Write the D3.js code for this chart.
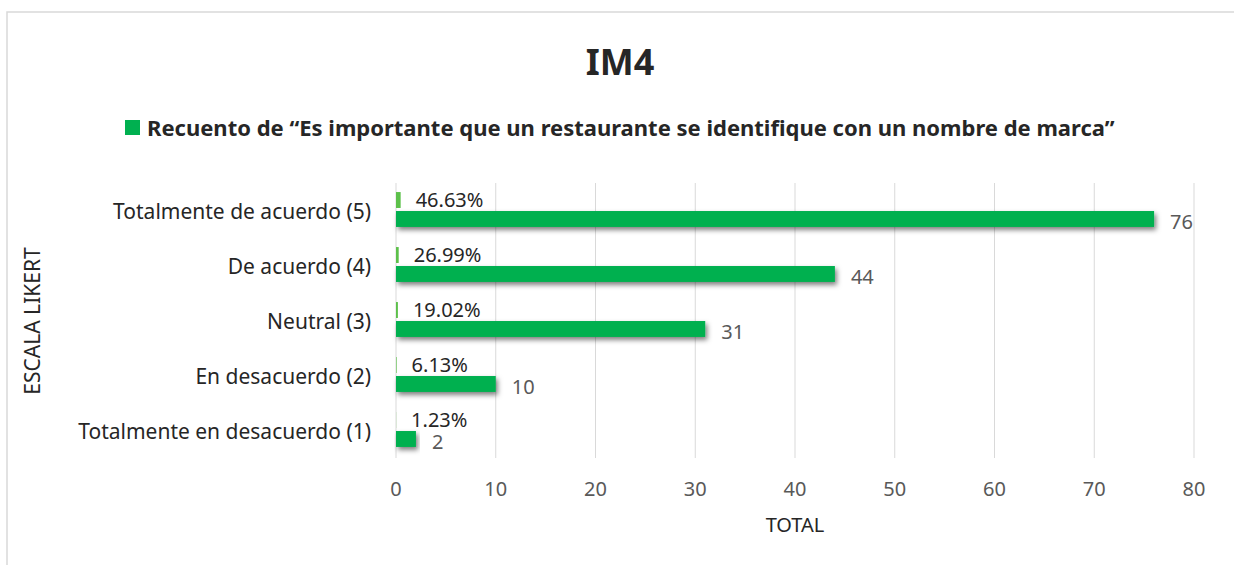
<html>
<head>
    <meta charset="UTF-8" />
    <script src="https://d3js.org/d3.v7.min.js"></script>
    <style>
        body { margin: 0; background: white; }
        text { font-family: "Noto Sans", "Open Sans", sans-serif; }
        .grid line { stroke: #d9d9d9; stroke-width: 1px; }
    </style>
</head>
<body>
    <svg id="chart" width="1234" height="565"></svg>
    <script>
        // data
        const categories = ["Totalmente de acuerdo (5)", "De acuerdo (4)", "Neutral (3)",
                            "En desacuerdo (2)", "Totalmente en desacuerdo (1)"];
        const counts = [76, 44, 31, 10, 2];
        const percents = [0.4663, 0.2699, 0.1902, 0.0613, 0.0123];
        const xTicks = [0, 10, 20, 30, 40, 50, 60, 70, 80];
        const title = "IM4";
        const legendLabel = "Recuento de \u201cEs importante que un restaurante se identifique con un nombre de marca\u201d";

        const svg = d3.select("#chart");

        // chart frame
        svg.append("rect")
            .attr("x", 7).attr("y", 12)
            .attr("width", 1240).attr("height", 570)
            .style("fill", "white")
            .style("stroke", "#d9d9d9")
            .style("stroke-width", 1.5);

        const defs = svg.append("defs");
        const shadow = defs.append("filter").attr("id", "shadow")
            .attr("x", "-10%").attr("y", "-60%").attr("width", "130%").attr("height", "240%");
        shadow.append("feDropShadow")
            .attr("dx", 2).attr("dy", 3).attr("stdDeviation", 2.6)
            .attr("flood-color", "#000").attr("flood-opacity", 0.5);

        const x = d3.scaleLinear().domain([0, 80]).range([396, 1194]);
        const y = d3.scaleBand().domain(categories).range([183, 458]);
        const inner = d3.scaleBand().domain(["pct", "cnt"])
            .range([-1, y.bandwidth() - 1]).paddingInner(0.16).paddingOuter(0.53);

        const rows = categories.map((c, i) => ({ cat: c, count: counts[i], pct: percents[i] }));

        // gridlines
        svg.append("g").attr("class", "grid")
            .selectAll("line").data(xTicks).join("line")
            .attr("x1", d => x(d)).attr("x2", d => x(d))
            .attr("y1", 183).attr("y2", 458);

        // x tick labels
        svg.append("g").selectAll("text").data(xTicks).join("text")
            .attr("x", d => x(d)).attr("y", 488)
            .attr("text-anchor", "middle").attr("dominant-baseline", "central")
            .style("font-size", "20px").style("fill", "#595959")
            .text(d => d);

        // category labels
        svg.append("g").selectAll("text").data(categories).join("text")
            .attr("x", 371).attr("y", d => y(d) + y.bandwidth() / 2)
            .attr("text-anchor", "end").attr("dominant-baseline", "central")
            .style("font-size", "21px").style("fill", "#262626")
            .text(d => d);

        // bars
        const bars = svg.append("g");
        bars.selectAll("rect.cnt").data(rows).join("rect")
            .attr("class", "cnt")
            .attr("x", x(0))
            .attr("y", d => y(d.cat) + inner("cnt"))
            .attr("width", d => x(d.count) - x(0))
            .attr("height", inner.bandwidth())
            .style("fill", "#00b050")
            .attr("filter", "url(#shadow)");

        bars.selectAll("rect.pct").data(rows).join("rect")
            .attr("class", "pct")
            .attr("x", x(0))
            .attr("y", d => y(d.cat) + inner("pct"))
            .attr("width", d => x(d.pct) - x(0))
            .attr("height", inner.bandwidth())
            .style("fill", "#5cc04a");

        // value labels
        svg.append("g").selectAll("text").data(rows).join("text")
            .attr("x", d => x(d.count) + 16)
            .attr("y", d => y(d.cat) + inner("cnt") + inner.bandwidth() / 2 + 3)
            .attr("dominant-baseline", "central")
            .style("font-size", "20px").style("fill", "#595959")
            .text(d => d.count);

        svg.append("g").selectAll("text").data(rows).join("text")
            .attr("x", d => x(d.pct) + 15)
            .attr("y", d => y(d.cat) + inner("pct") + inner.bandwidth() / 2 - 1)
            .attr("dominant-baseline", "central")
            .style("font-size", "20px").style("fill", "#262626")
            .text(d => d3.format(".2%")(d.pct));

        // title
        svg.append("text")
            .attr("x", 620).attr("y", 61)
            .attr("text-anchor", "middle").attr("dominant-baseline", "central")
            .style("font-size", "36px").style("font-weight", "bold").style("fill", "#262626")
            .text(title);

        // legend
        svg.append("rect")
            .attr("x", 125).attr("y", 120).attr("width", 15).attr("height", 15)
            .style("fill", "#00b050");
        svg.append("text")
            .attr("x", 147).attr("y", 127)
            .attr("dominant-baseline", "central")
            .style("font-size", "22px").style("font-weight", "bold").style("fill", "#262626")
            .text(legendLabel);

        // axis titles
        svg.append("text")
            .attr("transform", "translate(32,321) rotate(-90)")
            .attr("text-anchor", "middle").attr("dominant-baseline", "central")
            .style("font-size", "21px").style("fill", "#262626")
            .text("ESCALA LIKERT");
        svg.append("text")
            .attr("x", 795).attr("y", 524)
            .attr("text-anchor", "middle").attr("dominant-baseline", "central")
            .style("font-size", "20px").style("fill", "#262626")
            .text("TOTAL");
    </script>
</body>
</html>
